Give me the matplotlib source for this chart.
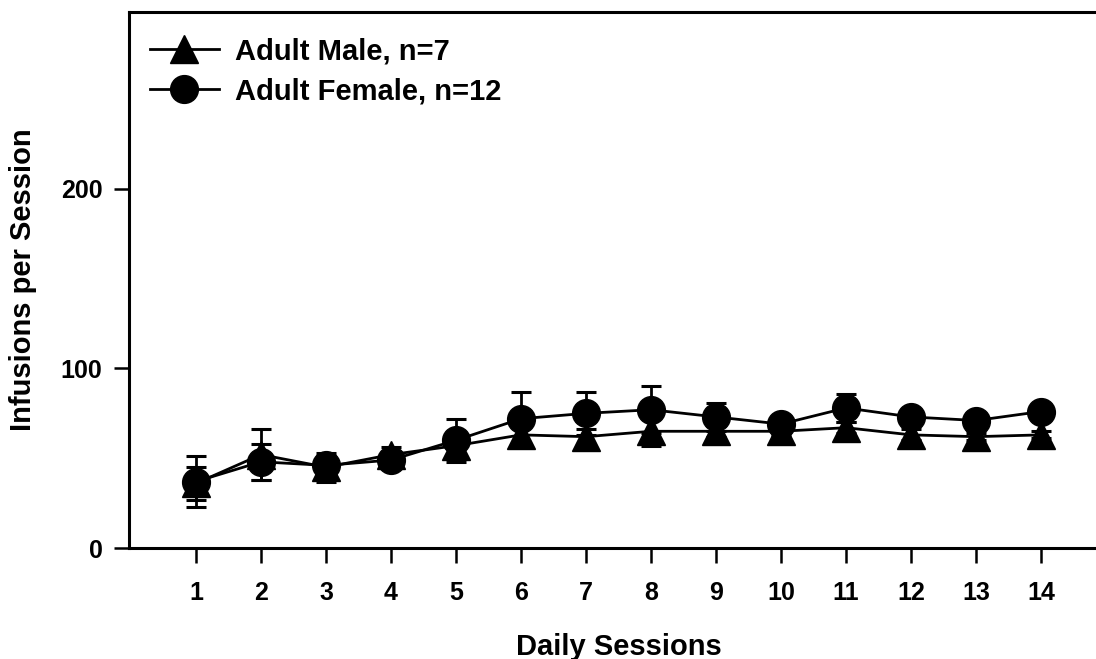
import matplotlib.pyplot as plt
from matplotlib.lines import Line2D
import numpy as np

plt.rcParams['font.family'] = ['Liberation Sans', 'DejaVu Sans']
plt.rcParams['font.weight'] = 'bold'

sessions = np.arange(1, 15)
male_mean = [36, 52, 45, 52, 57, 63, 62, 65, 65, 65, 67, 63, 62, 63]
male_sem = [9, 14, 8, 4, 7, 6, 4, 8, 3, 2, 3, 3, 2, 2]
female_mean = [37, 48, 46, 49, 60, 72, 75, 77, 73, 69, 78, 73, 71, 76]
female_sem = [14, 10, 5, 3, 12, 15, 12, 13, 8, 2, 8, 3, 3, 3]

W, H = 1096, 659
fig = plt.figure(figsize=(W / 100, H / 100), dpi=100)
# right side of the box is cut off in the original, so the axes run past the figure edge
ax = fig.add_axes([129 / W, (H - 548) / H, 1.0, (548 - 12) / H])

ax.errorbar(sessions, male_mean, yerr=male_sem, color='black', marker='^', markersize=20,
            linewidth=2, elinewidth=2, capsize=7, capthick=2.2)
ax.errorbar(sessions, female_mean, yerr=female_sem, color='black', marker='o', markersize=20,
            linewidth=2, elinewidth=2, capsize=7, capthick=2.2)

px = 65.0  # pixels per session
x0 = 1 - 67 / px
ax.set_xlim(x0, x0 + W / px)
ax.set_ylim(0, 298.5)
ax.set_xticks(sessions)
ax.set_yticks([0, 100, 200])

for s in ax.spines.values():
    s.set_linewidth(2.2)
ax.tick_params(axis='both', width=1.8, length=11, labelsize=18, direction='out')
ax.tick_params(axis='x', pad=13)
ax.tick_params(axis='y', pad=8)

ax.set_xlabel('Daily Sessions', fontsize=21, fontweight='bold', labelpad=20)
# centre the x label under the sessions, not the (cut off) axes box
ax.xaxis.label.set_x((7.5 - x0) * px / W)
ax.set_ylabel('Infusions per Session', fontsize=21, fontweight='bold')
ax.yaxis.set_label_coords((37 - 129) / W, 0.5)

handles = [Line2D([], [], color='black', marker='^', markersize=20, linewidth=2),
           Line2D([], [], color='black', marker='o', markersize=20, linewidth=2)]
labels = ['Adult Male, n=7', 'Adult Female, n=12']
fig.legend(handles, labels, loc='upper left', frameon=False, fontsize=21,
           handlelength=2.35, handletextpad=0.55, borderpad=0, borderaxespad=0,
           labelspacing=0.42, bbox_to_anchor=(150 / W, 1 - 37 / H))

fig.savefig('out.png', dpi=100)
